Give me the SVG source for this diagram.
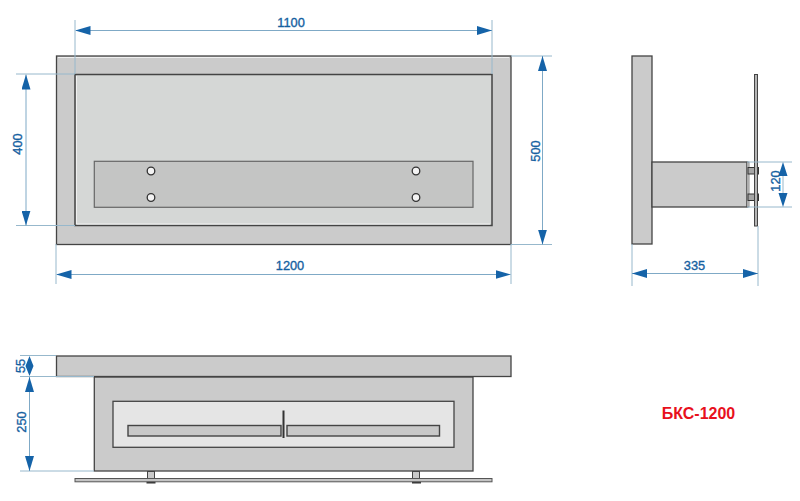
<svg xmlns="http://www.w3.org/2000/svg" width="800" height="501" viewBox="0 0 800 501">
<style>
.t{font-family:"Liberation Sans",Arial,sans-serif;font-size:12.800px;fill:#14609f;text-anchor:middle;stroke:#14609f;stroke-width:.35px}
.e{stroke:#97b8cc;stroke-width:1;fill:none}
.d{stroke:#7fa9c6;stroke-width:1;fill:none;marker-start:url(#a);marker-end:url(#a)}
.o{fill:#cbcbcb;stroke:#444;stroke-width:1.3}
.l{fill:#d5d7d6;stroke:#444;stroke-width:1.5}
.s{fill:#c4c5c4;stroke:#666;stroke-width:1.2}
.w{fill:#e5e5e5;stroke:#444;stroke-width:1.3}
.b{fill:#f3f3f3;stroke:#333;stroke-width:1.3}
.h{stroke:#f0f0f0;stroke-width:1;fill:none}
</style>
<defs>
<marker id="a" viewBox="0 0 15 9" refX="15" refY="4.500" markerWidth="15" markerHeight="9" markerUnits="userSpaceOnUse" orient="auto-start-reverse"><path d="M0 0L15 4.500L0 9Z" fill="#1563a8"/></marker>
</defs>
<rect width="800" height="501" fill="#fff"/>
<g id="front">
<rect class="o" x="56.500" y="56" width="454.500" height="188.500"/>
<path class="h" d="M58 57.500H509"/>
<rect class="l" x="75" y="74.500" width="417" height="151"/>
<path class="h" d="M76.500 76V224H490"/>
<rect class="s" x="94.300" y="161.300" width="378.700" height="46"/>
<g class="b">
<circle cx="151" cy="171" r="3.800"/><circle cx="151" cy="197.500" r="3.800"/>
<circle cx="416" cy="171" r="3.800"/><circle cx="416" cy="197.500" r="3.800"/>
</g>
</g>
<g id="side">
<rect class="o" x="632" y="56" width="20" height="188"/>
<rect class="o" x="652" y="162" width="95" height="45"/>
<rect x="747" y="162" width="2" height="45" fill="#ddd" stroke="#555" stroke-width=".7"/>
<g fill="#a5a5a5" stroke="#333" stroke-width="1">
<rect x="748" y="167.500" width="10.500" height="6.500"/>
<rect x="748" y="194" width="10.500" height="6.500"/>
</g>
<rect x="754.500" y="74.500" width="3" height="151.500" fill="#b5b5b5" stroke="#444"/>
</g>
<g id="bottom">
<g fill="#c9c9c9" stroke="#444">
<rect x="147.500" y="471.500" width="7" height="8"/>
<rect x="412.500" y="471.500" width="7" height="8"/>
</g>
<g fill="#333">
<rect x="146.500" y="480.500" width="9" height="3"/>
<rect x="412" y="480.500" width="9" height="3"/>
</g>
<rect x="75" y="478.500" width="417" height="3.300" fill="#c4c4c4" stroke="#555"/>
<rect class="o" x="94.300" y="377" width="378.700" height="94"/>
<rect class="w" x="113" y="401.300" width="341" height="46"/>
<rect x="128" y="425.500" width="153" height="10.500" fill="#c8c8c8" stroke="#444" stroke-width="1.400"/>
<rect x="287" y="425.500" width="152.500" height="10.500" fill="#c8c8c8" stroke="#444" stroke-width="1.400"/>
<rect x="282.500" y="410.500" width="2" height="27.500" fill="#333"/>
<rect class="o" x="56.500" y="356" width="454.500" height="20.500"/>
</g>
<g id="connectors">
<path class="e" d="M75 20V74M492 20V74M56 244V284M511 244V284M16 74H75M16 225.500H75M511 56H552M511 244.500H552M632 244V286M758 226V286M747 162H792M747 207H792M20 355.500H56M20 376.500H94M20 471H94"/>
<path class="d" d="M75.500 30.500H492"/>
<path class="d" d="M56.500 274.500H510.500"/>
<path class="d" d="M26 74.500V225.500"/>
<path class="d" d="M542.500 56V244.500"/>
<path class="d" d="M632 273.500H758"/>
<path class="d" d="M29.500 377V471"/>
<path d="M783 162L778.500 176H787.500ZM783 207L778.500 193H787.500ZM29.500 356L25.500 366H33.500ZM29.500 376L25.500 366H33.500Z" fill="#1563a8"/>
<path d="M783 176V193" class="e"/>
</g>
<g id="labels">
<text class="t" x="291" y="26.500">1100</text>
<text class="t" x="290" y="270">1200</text>
<text class="t" x="694.500" y="269.500">335</text>
<text class="t" transform="translate(22 144) rotate(-90)">400</text>
<text class="t" transform="translate(539.500 151) rotate(-90)">500</text>
<text class="t" transform="translate(780 181) rotate(-90)">120</text>
<text class="t" transform="translate(25 366) rotate(-90)">55</text>
<text class="t" transform="translate(25.500 422) rotate(-90)">250</text>
<text x="698.500" y="419" style="font-family:'Liberation Sans',Arial,sans-serif;font-size:16px;font-weight:700;fill:#e8101c;text-anchor:middle">БКС-1200</text>
</g>
</svg>
